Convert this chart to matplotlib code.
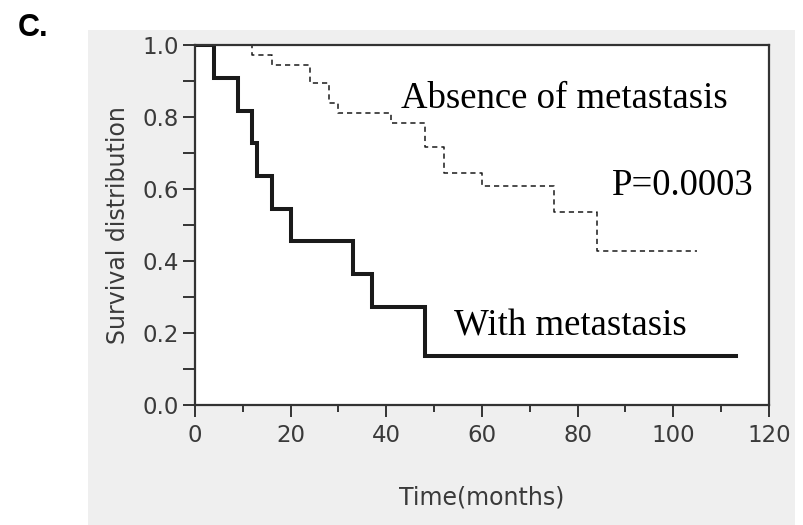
import matplotlib
matplotlib.use('Agg')
import matplotlib.pyplot as plt
from matplotlib.patches import Rectangle
from matplotlib.ticker import MultipleLocator

# Kaplan-Meier steps
met_time = [0, 4, 9, 12, 13, 16, 20, 33, 37, 48, 113]
met_surv = [1.0, 0.909, 0.818, 0.727, 0.636, 0.545, 0.455, 0.364, 0.273, 0.136, 0.136]

abs_time = [0, 12, 16, 24, 28, 30, 41, 48, 52, 60, 75, 84, 105]
abs_surv = [1.0, 0.972, 0.944, 0.895, 0.840, 0.811, 0.784, 0.717, 0.645, 0.607, 0.536, 0.428, 0.428]

x_ticks = [0, 20, 40, 60, 80, 100, 120]
y_ticks = [0.0, 0.2, 0.4, 0.6, 0.8, 1.0]

fig = plt.figure(figsize=(8.04, 5.25), dpi=100)
fig.add_artist(Rectangle((88 / 804, 0), 707 / 804, 495 / 525, transform=fig.transFigure,
                         facecolor='#efefef', edgecolor='none', zorder=-5))
ax = fig.add_axes([195 / 804, 120 / 525, 574 / 804, 360 / 525])
ax.set_facecolor('white')

ax.step(met_time, met_surv, where='post', color='#1a1a1a', lw=2.9, solid_joinstyle='miter')
ax.step(abs_time, abs_surv, where='post', color='#1a1a1a', lw=1.1, dashes=(3.4, 2.6))

ax.set_xticks(x_ticks)
ax.set_yticks(y_ticks)
ax.set_yticklabels(['{:.1f}'.format(v) for v in y_ticks])
ax.xaxis.set_minor_locator(MultipleLocator(10))
ax.yaxis.set_minor_locator(MultipleLocator(0.1))
ax.set_xlim(0, 120)
ax.set_ylim(0, 1.0)

for s in ax.spines.values():
    s.set_color('#333333')
    s.set_linewidth(1.6)
ax.tick_params(which='both', direction='out', color='#333333', width=1.4,
               labelsize=16.5, labelcolor='#3a3a3a')
ax.tick_params(axis='y', which='both', length=8.6, pad=3)
ax.tick_params(axis='x', which='major', length=8.6, pad=5)
ax.tick_params(axis='x', which='minor', length=5)

ax.set_xlabel('Time(months)', fontsize=17, color='#3a3a3a', labelpad=28)
ax.set_ylabel('Survival distribution', fontsize=17, color='#3a3a3a', labelpad=9)

serif = 'Liberation Serif'
ax.text(43.1, 0.825, 'Absence of metastasis', family=serif, fontsize=26.5, va='baseline')
ax.text(87.2, 0.583, 'P=0.0003', family=serif, fontsize=26.5, va='baseline')
ax.text(54.2, 0.192, 'With metastasis', family=serif, fontsize=26.5, va='baseline')

fig.text(18 / 804, 1 - 28 / 525, 'C.', family='Liberation Sans', fontsize=22,
         fontweight='bold', va='center')

fig.savefig('out.png', dpi=100)
